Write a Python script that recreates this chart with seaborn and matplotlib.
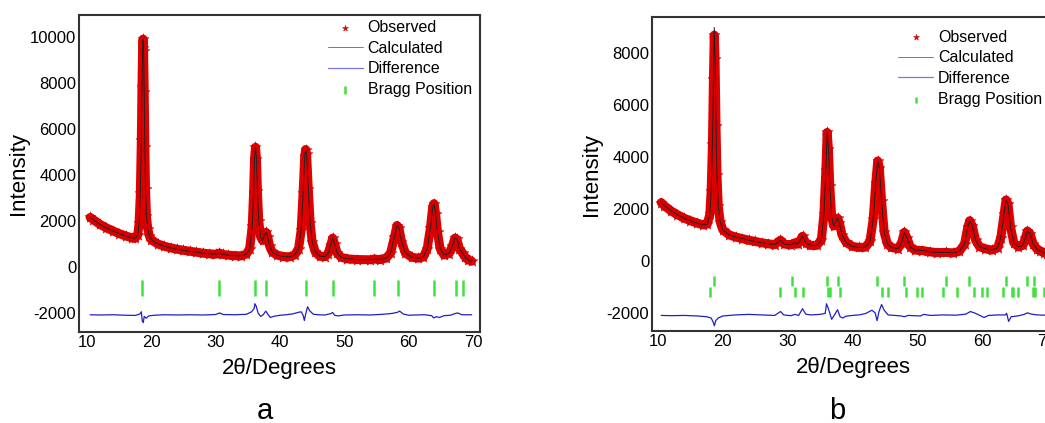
import matplotlib
matplotlib.use("Agg")
import matplotlib.pyplot as plt
import seaborn as sns
import numpy as np
import pandas as pd

sns.set_style("white")
plt.rcParams["font.family"] = ["Liberation Sans", "DejaVu Sans"]
plt.rcParams["axes.unicode_minus"] = False
plt.rcParams["text.color"] = "black"
plt.rcParams["axes.labelcolor"] = "black"
plt.rcParams["xtick.color"] = "black"
plt.rcParams["ytick.color"] = "black"

# ---- panel a: values ----
two_theta_a = [10.5, 11, 12, 13, 14, 15, 16, 17, 17.5, 17.9, 18.1, 18.3, 18.45, 18.55, 18.65,
               18.72, 18.8, 18.9, 19.0, 19.1, 19.25, 19.45, 19.7, 20, 21, 22, 23, 24, 25, 26,
               27, 28, 29, 30, 30.6, 31.2, 32, 33, 34, 34.8, 35.3, 35.7, 35.9, 36.05, 36.2,
               36.35, 36.5, 36.7, 37.0, 37.3, 37.6, 37.85, 38.1, 38.4, 38.8, 39.5, 40.5, 41.5,
               42.3, 42.9, 43.3, 43.6, 43.85, 44.0, 44.15, 44.4, 44.7, 45.0, 45.5, 46.2, 47.0,
               47.5, 47.9, 48.2, 48.5, 48.9, 49.5, 50.5, 52, 54, 54.7, 55.5, 56.5, 57.2, 57.8,
               58.2, 58.5, 58.9, 59.5, 60.5, 61.5, 62.3, 62.9, 63.4, 63.75, 63.95, 64.2, 64.5,
               64.9, 65.5, 66.3, 66.8, 67.2, 67.5, 67.9, 68.4, 68.8, 69.3, 69.8]
observed_a = [2150, 2050, 1850, 1700, 1570, 1450, 1350, 1260, 1250, 1400, 1900, 3200, 5500, 7800,
              9500, 9900, 9400, 7600, 5200, 3400, 2200, 1650, 1350, 1180, 1000, 900, 830, 770,
              720, 680, 640, 600, 570, 550, 600, 540, 510, 490, 480, 560, 800, 1800, 3200, 4700,
              5200, 4700, 3300, 2000, 1300, 1150, 1400, 1500, 1300, 900, 650, 520, 450, 440, 520,
              800, 1600, 3200, 4800, 5100, 4900, 3400, 1900, 1100, 650, 460, 450, 580, 950, 1250,
              1000, 600, 420, 350, 320, 310, 340, 320, 380, 600, 1300, 1800, 1700, 1100, 600,
              420, 380, 430, 800, 1700, 2600, 2750, 2300, 1500, 800, 520, 580, 900, 1250, 1200,
              800, 600, 420, 300, 250]
calculated_a = list(observed_a)

diff_theta_a = [10.5, 12, 14, 16, 17.5, 18.2, 18.45, 18.6, 18.75, 18.9, 19.2, 19.6, 20.5, 22, 24,
                26, 28, 30, 30.6, 31.2, 33, 34.8, 35.6, 36.0, 36.1, 36.3, 36.6, 37.0, 37.4, 37.8,
                38.1, 38.5, 39, 40, 41, 42, 42.8, 43.3, 43.6, 43.8, 44.0, 44.3, 44.6, 45.2, 46,
                47, 47.9, 48.2, 48.5, 49, 50, 52, 54, 56, 57.5, 58.3, 58.6, 59.2, 60, 61, 62.5,
                63.6, 63.9, 64.3, 64.8, 65.5, 66.5, 67.2, 67.6, 68.3, 69, 69.8]
difference_a = [-2080, -2090, -2080, -2100, -2110, -2050, -1950, -2350, -2420, -2150, -2230,
                -2130, -2100, -2080, -2090, -2080, -2090, -2070, -2000, -2070, -2080, -2060,
                -1950, -1800, -1600, -1700, -2000, -2150, -2080, -1920, -2050, -2200, -2150,
                -2100, -2080, -2040, -1980, -1950, -2100, -2330, -2050, -1730, -1900, -2060,
                -2080, -2090, -2030, -1980, -2100, -2130, -2090, -2080, -2090, -2060, -2020,
                -1970, -1920, -2050, -2100, -2090, -2080, -2120, -2220, -2160, -2200, -2120,
                -2100, -2030, -2000, -2080, -2080, -2080]

bragg_a = [18.5, 30.6, 36.1, 37.8, 44.0, 48.2, 54.7, 58.3, 64.0, 67.4, 68.5]

# ---- panel b: values ----
two_theta_b = [10.5, 11, 12, 13, 14, 15, 16, 17, 17.6, 18.0, 18.2, 18.4, 18.55, 18.68, 18.8,
               18.95, 19.1, 19.3, 19.6, 20, 21, 22, 23, 24, 25, 26, 27, 28, 28.9, 29.5, 30.5,
               31.1, 31.6, 32.3, 32.8, 33.5, 34.5, 35.2, 35.6, 35.9, 36.1, 36.3, 36.5, 36.8,
               37.1, 37.4, 37.7, 38.0, 38.4, 39, 40, 41, 42, 42.7, 43.2, 43.6, 43.9, 44.15,
               44.5, 44.9, 45.4, 46, 47, 47.6, 48.0, 48.4, 48.9, 49.6, 50.8, 52, 53, 54.4, 55.5,
               56.5, 57.3, 57.8, 58.1, 58.5, 59, 59.6, 60.5, 61.5, 62.4, 62.9, 63.4, 63.7, 64.0,
               64.4, 64.9, 65.6, 66.3, 66.7, 67.0, 67.4, 67.9, 68.5, 69, 69.5, 70]
observed_b = [2250, 2120, 1930, 1780, 1650, 1550, 1460, 1390, 1420, 1800, 2700, 4500, 7000, 8700,
              7800, 5200, 3300, 2100, 1500, 1200, 1000, 920, 860, 800, 750, 700, 660, 630, 800,
              650, 620, 700, 650, 950, 700, 600, 600, 800, 1800, 3500, 4950, 4300, 2900, 1700,
              1350, 1500, 1650, 1450, 1000, 720, 560, 520, 530, 750, 1600, 3000, 3850, 3600,
              2300, 1100, 650, 520, 470, 700, 1100, 900, 550, 420, 400, 350, 320, 330, 310, 370,
              650, 1300, 1550, 1350, 800, 550, 470, 420, 500, 900, 1800, 2350, 2200, 1300, 700,
              540, 600, 900, 1150, 1050, 650, 450, 380, 320, 280]
calculated_b = list(observed_b)
calculated_b[13] = 9000  # calculated overshoots the strongest peak

diff_theta_b = [10.5, 12, 14, 16, 17.5, 18.2, 18.5, 18.7, 18.9, 19.3, 20, 22, 24, 26, 28, 28.9,
                29.4, 30.5, 31.1, 31.7, 32.3, 32.8, 33.5, 35, 35.8, 36.0, 36.3, 36.8, 37.3, 37.7,
                38.1, 38.5, 39, 40, 41, 42, 43.0, 43.5, 43.8, 44.1, 44.5, 44.9, 45.5, 46.5, 47.5,
                48.0, 48.6, 49.5, 50.5, 51, 52, 54, 56, 57.5, 58.2, 58.8, 59.5, 60.3, 61, 62.5,
                63.6, 63.8, 64.1, 64.5, 65.5, 66.5, 67.0, 67.6, 68.5, 69.5, 70]
difference_b = [-2100, -2110, -2100, -2120, -2150, -2200, -2350, -2500, -2300, -2200, -2120,
                -2080, -2060, -2080, -2100, -1950, -2080, -2110, -2060, -2100, -1840, -2050,
                -2080, -2060, -2020, -1650, -1850, -2250, -2050, -1880, -2150, -2200, -2130,
                -2100, -2080, -2030, -1900, -2000, -2300, -1950, -1680, -1900, -2080, -2100,
                -2120, -2150, -2100, -2110, -2120, -2060, -2100, -2080, -2090, -2050, -1950,
                -2000, -2080, -2180, -2100, -2080, -2080, -2020, -2330, -2150, -2120, -2060,
                -2000, -2050, -2080, -2090, -2080]

bragg_b1 = [18.64, 30.6, 36.1, 37.7, 43.85, 48.0, 54.4, 58.0, 63.7, 67.0, 68.0]
bragg_b2 = [18.0, 28.9, 31.1, 32.4, 36.2, 36.5, 38.1, 44.5, 45.5, 48.3, 49.9, 50.8, 53.9,
            56.1, 58.7, 60.0, 60.8, 63.3, 64.6, 64.8, 65.5, 67.8, 68.1, 69.5]

RED = "#e10000"
BLUE = "#1f1fc8"
GREEN = "#3ee23e"


def draw_panel(ax, tt, obs, calc, dtt, diff, bragg_rows, xlim, ylim, yticks, leg_xy):
    # observed: dense band of stars
    sns.lineplot(x=tt, y=obs, ax=ax, color=RED, linewidth=6.5, sort=False, estimator=None)
    sns.scatterplot(x=tt, y=obs, ax=ax, marker="*", s=70, color=RED, edgecolor="#c00000",
                    linewidth=0.3, label="Observed", zorder=3)
    sns.lineplot(x=tt, y=calc, ax=ax, color="#222222", linewidth=0.7, sort=False,
                 estimator=None, label="Calculated", zorder=4)
    sns.lineplot(x=dtt, y=diff, ax=ax, color=BLUE, linewidth=0.9, sort=False,
                 estimator=None, label="Difference")
    for i, (pos, level, size) in enumerate(bragg_rows):
        sns.scatterplot(x=pos, y=[level] * len(pos), ax=ax, marker="|", s=size,
                        color=GREEN, linewidth=1.8,
                        label="Bragg Position" if i == 0 else None)
    ax.set_xlim(*xlim)
    ax.set_ylim(*ylim)
    ax.set_xticks(range(10, 71, 10))
    ax.set_yticks(yticks)
    ax.tick_params(length=0, pad=2, labelsize=12)
    ax.set_xlabel("2θ/Degrees", fontsize=16, labelpad=6)
    ax.set_ylabel("Intensity", fontsize=16)
    ax.yaxis.set_label_coords(-0.125, 0.5)
    for sp in ax.spines.values():
        sp.set_color("#333333")
        sp.set_linewidth(1.5)
    leg = ax.legend(loc="upper left", bbox_to_anchor=leg_xy, frameon=False, fontsize=11.5,
                    borderpad=0, borderaxespad=0, handlelength=2.2, handletextpad=0.3,
                    labelspacing=0.36, markerscale=0.55)
    for h in leg.legend_handles:
        if isinstance(h, matplotlib.lines.Line2D):
            h.set_alpha(0.6)
    return ax


fig = plt.figure(figsize=(10.45, 4.23), dpi=100)
ax_a = fig.add_axes([0.0756, 0.2151, 0.3837, 0.7494])
ax_b = fig.add_axes([0.6239, 0.2175, 0.3847, 0.7423])

draw_panel(ax_a, two_theta_a, observed_a, calculated_a, diff_theta_a, difference_a,
           [(bragg_a, -900, 120)], (8.76, 71.1), (-2830, 10950),
           range(-2000, 10001, 2000), (0.62, 0.985))
draw_panel(ax_b, two_theta_b, observed_b, calculated_b, diff_theta_b, difference_b,
           [(bragg_b1, -770, 45), (bragg_b2, -1210, 45)], (9.07, 71.1), (-2700, 9400),
           range(-2000, 8001, 2000), (0.612, 0.96))

fig.text(265 / 1045, 1 - 411 / 423, "a", fontsize=21, ha="center", va="center")
fig.text(837 / 1045, 1 - 411 / 423, "b", fontsize=21, ha="center", va="center")

fig.savefig("out.png", dpi=100)
